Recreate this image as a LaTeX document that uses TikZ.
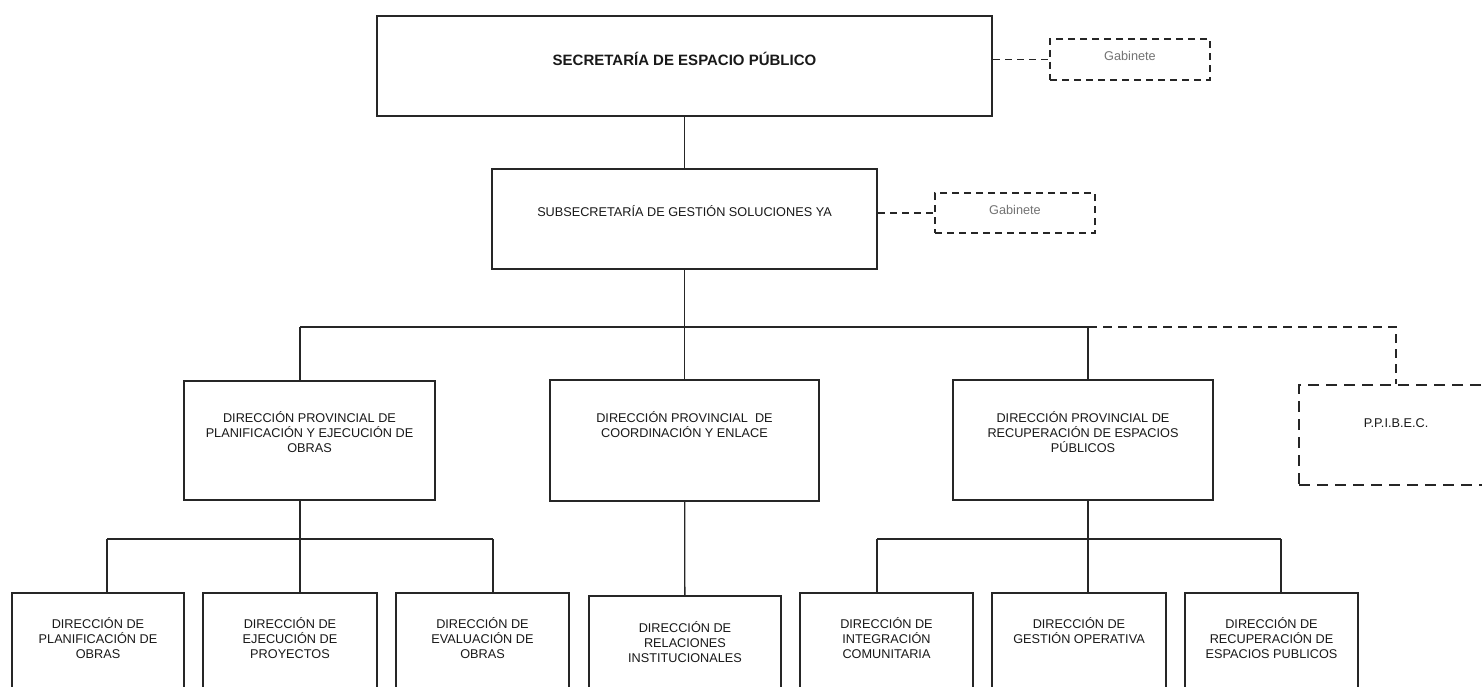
\documentclass[tikz,border=0pt]{standalone}
\usepackage{fontspec}
\setmainfont{Liberation Sans}
\usepackage{tikz}
\usetikzlibrary{positioning,calc}
\colorlet{linegray}{black!85}
\tikzstyle{link} = [line width=1.3pt,linegray]
\tikzstyle{dashlink} = [line width=1.3pt,linegray,dash pattern=on 7pt off 5pt]
\tikzstyle{buslink} = [line width=1.4pt,linegray,dash pattern=on 9pt off 6pt]

\begin{document}
\begin{tikzpicture}[x=1pt,y=-1pt,
	unit/.style 2 args={rectangle, draw=linegray, line width=2pt, minimum width=#1, minimum height=#2, inner sep=0pt},
	office/.style={rectangle, draw=linegray, line width=1.5pt, minimum width=#1, minimum height=120pt, inner sep=0pt},
	staff/.style={rectangle, draw=linegray, line width=1.3pt, dash pattern=on 7pt off 5pt, minimum width=160pt, minimum height=#1, inner sep=0pt},
	caption/.style={inner sep=0pt, align=center, text=black!90, font=\fontsize{12.7}{15}\selectfont}]
		
		\useasboundingbox (0,0) rectangle (1482,687);
		\fill[white] (0,0) rectangle (1482,687);
		\clip (0,0) rectangle (1482,687);
		
		% TOP LEVEL
		
		\node [unit={615pt}{100pt}] (sec) at (684.5,66) {};
		\node [caption, font=\fontsize{15}{18}\selectfont\bfseries, below=50.5pt of sec.north, anchor=base] (sectext) {SECRETARÍA DE ESPACIO PÚBLICO};
		
		\node [staff=41pt] (gab1) at (1130,59.5) {};
		\node [caption, text=black!55, below=22pt of gab1.north, anchor=base] (gab1text) {Gabinete};
		
		\node [unit={385pt}{100pt}] (sub) at (684.5,219) {};
		\node [caption, below=48pt of sub.north, anchor=base] (subtext) {SUBSECRETARÍA DE GESTIÓN SOLUCIONES YA};
		
		\node [staff=40pt] (gab2) at (1015,213) {};
		\node [caption, text=black!55, below=22pt of gab2.north, anchor=base] (gab2text) {Gabinete};
		
		% PROVINCIAL DIRECTIONS
		
		\node [unit={251pt}{119pt}] (dp1) at (309.5,440.5) {};
		\node [caption, below=31pt of dp1.north] (dp1text) {DIRECCIÓN PROVINCIAL DE\\PLANIFICACIÓN Y EJECUCIÓN DE\\OBRAS};
		
		\node [unit={269pt}{121pt}] (dp2) at (684.5,440.5) {};
		\node [caption, below=32pt of dp2.north] (dp2text) {DIRECCIÓN PROVINCIAL \ DE\\COORDINACIÓN Y ENLACE};
		
		\node [unit={260pt}{120pt}] (dp3) at (1083,440) {};
		\node [caption, below=32pt of dp3.north] (dp3text) {DIRECCIÓN PROVINCIAL DE\\RECUPERACIÓN DE ESPACIOS\\PÚBLICOS};
		
		\node [rectangle, draw=linegray, line width=2pt, dash pattern=on 11pt off 7pt, minimum width=194pt, minimum height=100pt, inner sep=0pt] (ppi) at (1396,435) {};
		\node [caption, below=43pt of ppi.north, anchor=base] (ppitext) {P.P.I.B.E.C.};
		
		% DIRECTIONS
		
		\node [office=172pt] (b1) at (98,653) {};
		\node [caption, below=25pt of b1.north] (b1text) {DIRECCIÓN DE\\PLANIFICACIÓN DE\\OBRAS};
		
		\node [office=174pt] (b2) at (290,653) {};
		\node [caption, below=25pt of b2.north] (b2text) {DIRECCIÓN DE\\EJECUCIÓN DE\\PROYECTOS};
		
		\node [office=173pt] (b3) at (482.5,653) {};
		\node [caption, below=25pt of b3.north] (b3text) {DIRECCIÓN DE\\EVALUACIÓN DE\\OBRAS};
		
		\node [office=192pt] (b4) at (685,656) {};
		\node [caption, below=26pt of b4.north] (b4text) {DIRECCIÓN DE\\RELACIONES\\INSTITUCIONALES};
		
		\node [office=173pt] (b5) at (886.5,653) {};
		\node [caption, below=25pt of b5.north] (b5text) {DIRECCIÓN DE\\INTEGRACIÓN\\COMUNITARIA};
		
		\node [office=174pt] (b6) at (1079,653) {};
		\node [caption, below=25pt of b6.north] (b6text) {DIRECCIÓN DE\\GESTIÓN OPERATIVA};
		
		\node [office=173pt] (b7) at (1271.5,653) {};
		\node [caption, below=25pt of b7.north] (b7text) {DIRECCIÓN DE\\RECUPERACIÓN DE\\ESPACIOS PUBLICOS};
		
		% LINKS
		
		\coordinate (busW) at (300,327);
		\coordinate (busE) at (1088,327);
		\coordinate (busX) at (1396,327);
		\coordinate (forkW) at (300,539);
		\coordinate (fork1) at (107,539);
		\coordinate (fork3) at (493,539);
		\coordinate (forkE) at (1088,539);
		\coordinate (fork5) at (877,539);
		\coordinate (fork7) at (1281,539);
		
		\draw [link] (sec) -- (sub);
		\draw [dashlink] (gab1.west -| sec.east) -- (gab1.west);
		\draw [dashlink] (gab2.west -| sub.east) -- (gab2.west);
		
		\draw [link] (sub) -- (sub |- busW);
		\draw [link] (busW) -- (busE);
		\draw [buslink] (busE) -- (busX) -- (ppi);
		\draw [link] (busW) -- (dp1.north -| busW);
		\draw [link] (sub |- busW) -- (dp2);
		\draw [link] (busE) -- (dp3.north -| busE);
		
		\draw [link] (dp1.south -| forkW) -- (forkW);
		\draw [link] (fork1) -- (fork3);
		\draw [link] (fork1) -- (b1.north -| fork1);
		\draw [link] (forkW) -- (b2.north -| forkW);
		\draw [link] (fork3) -- (b3.north -| fork3);
		
		\draw [link] (dp2) -- (b4);
		
		\draw [link] (dp3.south -| forkE) -- (forkE);
		\draw [link] (fork5) -- (fork7);
		\draw [link] (fork5) -- (b5.north -| fork5);
		\draw [link] (forkE) -- (b6.north -| forkE);
		\draw [link] (fork7) -- (b7.north -| fork7);
		
\end{tikzpicture}
\end{document}
